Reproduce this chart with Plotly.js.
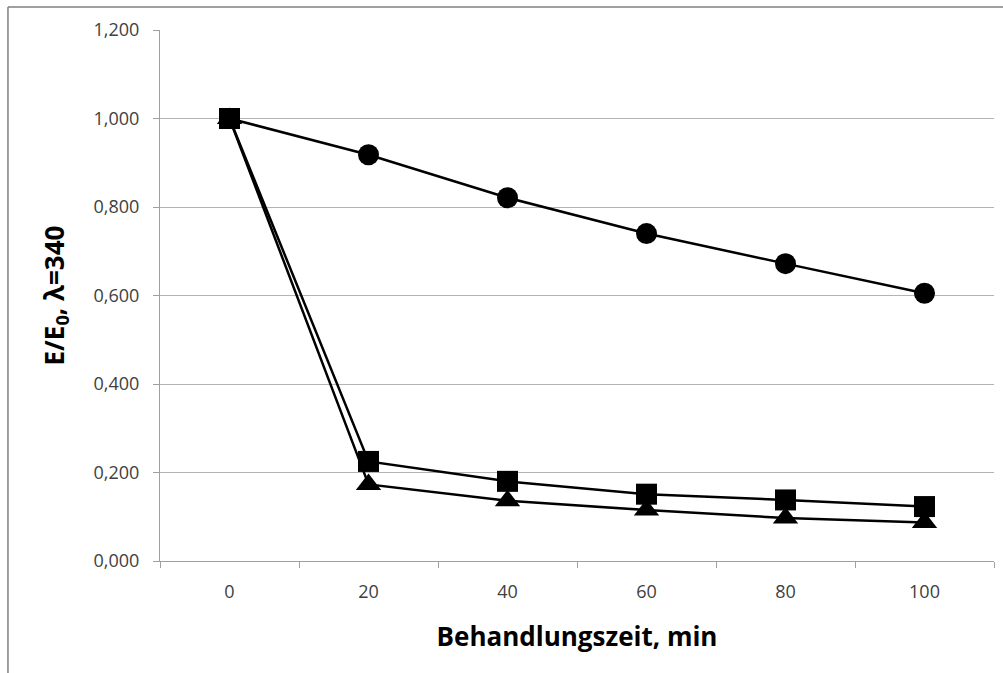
<!DOCTYPE html>
<html>
<head>
<meta charset="utf-8">
<script src="https://cdn.plot.ly/plotly-3.0.1.min.js"></script>
<style>html,body{margin:0;padding:0;background:#fff;}#chart{width:1003px;height:673px;}</style>
</head>
<body>
<div id="chart"></div>
<script>
const times = ['0', '20', '40', '60', '80', '100'];
const seriesCircle = [1.000, 0.918, 0.821, 0.740, 0.672, 0.605];
const seriesTriangle = [1.000, 0.173, 0.136, 0.115, 0.097, 0.087];
const seriesSquare = [1.000, 0.225, 0.180, 0.151, 0.138, 0.123];
const yTicks = [0, 0.2, 0.4, 0.6, 0.8, 1.0, 1.2];

const lineStyle = {color: '#000000', width: 2.5};
const traces = [
  {x: times, y: seriesCircle, type: 'scatter', mode: 'lines+markers', line: lineStyle,
   marker: {symbol: 'circle', size: 21, color: '#000000'}},
  {x: times, y: seriesTriangle, type: 'scatter', mode: 'lines+markers', line: lineStyle,
   marker: {symbol: 'triangle-up', size: 22, color: '#000000'}},
  {x: times, y: seriesSquare, type: 'scatter', mode: 'lines+markers', line: lineStyle,
   marker: {symbol: 'square', size: 21, color: '#000000'}}
];

const fontFam = 'Open Sans, Liberation Sans, sans-serif';
const layout = {
  width: 1003, height: 673,
  margin: {l: 160, r: 9, t: 30, b: 112},
  paper_bgcolor: '#ffffff', plot_bgcolor: '#ffffff',
  showlegend: false,
  separators: ',.',
  font: {family: fontFam, color: '#404040', size: 18},
  xaxis: {
    type: 'category',
    range: [-0.5, 5.5],
    tickson: 'boundaries',
    ticks: 'outside', ticklen: 6, tickcolor: '#a0a0a0', tickwidth: 1,
    ticklabelstandoff: 14,
    showgrid: false, zeroline: false,
    showline: true, linecolor: '#a0a0a0', linewidth: 1,
    tickfont: {size: 18, color: '#404040', family: fontFam},
    title: {text: '<b>Behandlungszeit, min</b>', font: {size: 26, color: '#000000', family: fontFam}, standoff: 26}
  },
  yaxis: {
    range: [0, 1.2],
    tickvals: yTicks,
    tickformat: '.3f',
    ticks: 'outside', ticklen: 6, tickcolor: '#a0a0a0', tickwidth: 1,
    ticklabelstandoff: 10,
    showgrid: true, gridcolor: '#b4b4b4', gridwidth: 1,
    zeroline: false,
    showline: true, linecolor: '#a0a0a0', linewidth: 1,
    tickfont: {size: 18, color: '#404040', family: fontFam},
    title: {text: '<b>E/E<sub>0</sub>, λ=340</b>', font: {size: 26, color: '#000000', family: fontFam}, standoff: 21}
  },
  shapes: [
    {type: 'line', xref: 'paper', yref: 'paper', x0: -0.1823, x1: 1.02, y0: 1.0433, y1: 1.0433,
     line: {color: '#808080', width: 1.5}},
    {type: 'line', xref: 'paper', yref: 'paper', x0: -0.1823, x1: -0.1823, y0: 1.0433, y1: -0.22,
     line: {color: '#808080', width: 1.5}}
  ]
};

Plotly.newPlot('chart', traces, layout, {displayModeBar: false, staticPlot: true});
</script>
</body>
</html>
